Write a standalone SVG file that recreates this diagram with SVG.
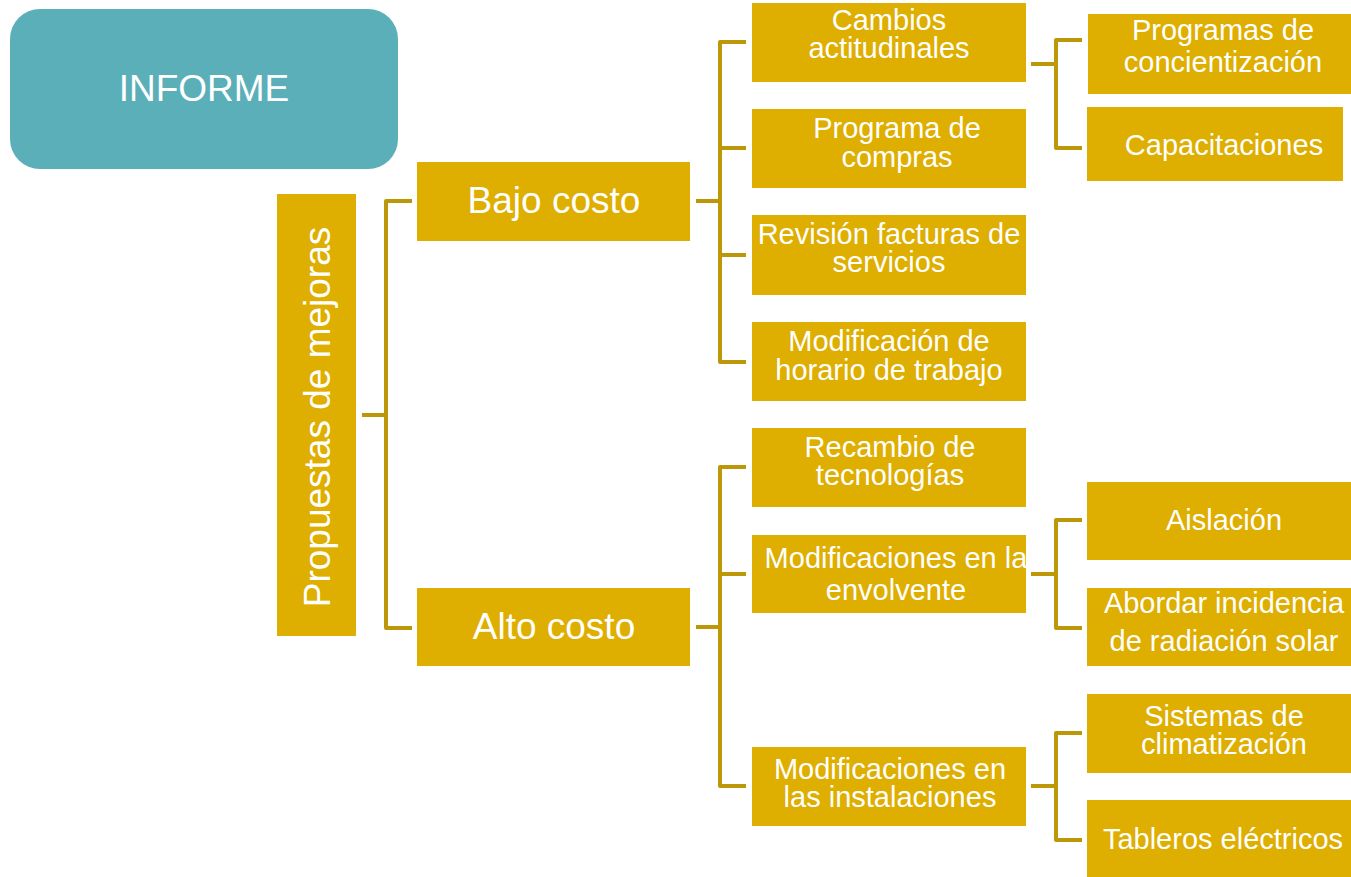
<svg xmlns="http://www.w3.org/2000/svg" width="1351" height="877" viewBox="0 0 1351 877">
<style>
.box{fill:#DEAE00;}
.t{font-family:"Liberation Sans",Arial,sans-serif;fill:#FFFFFF;text-anchor:middle;}
.s{font-size:29px;}
.b{font-size:37px;}
.c{fill:none;stroke:#BC9808;stroke-width:4;stroke-linejoin:round;}
</style>
<rect width="1351" height="877" fill="#FFFFFF"/>
<g id="connectors">
<path class="c" d="M362 415H386M412 201H386V628H412"/>
<path class="c" d="M696 201H720M746 42H720V362H746M720 148H746M720 255H746"/>
<path class="c" d="M696 627H720M746 467H720V786H746M720 574H746"/>
<path class="c" d="M1031 64H1056M1082 40H1056V148H1082"/>
<path class="c" d="M1031 574H1056M1082 520H1056V628H1082"/>
<path class="c" d="M1031 786H1056M1082 733H1056V840H1082"/>
</g>
<g id="informe">
<rect x="10" y="9" width="388" height="160" rx="30" fill="#5AAFB8"/>
<text class="t b" x="204" y="101">INFORME</text>
</g>
<g id="propuestas">
<rect class="box" x="277" y="194" width="79" height="442"/>
<text class="t b" transform="translate(330 417) rotate(-90)">Propuestas de mejoras</text>
</g>
<g id="bajo">
<rect class="box" x="417" y="162" width="273" height="79"/>
<text class="t b" x="554" y="213">Bajo costo</text>
</g>
<g id="alto">
<rect class="box" x="417" y="588" width="273" height="78"/>
<text class="t b" x="554" y="639">Alto costo</text>
</g>
<g id="cambios">
<rect class="box" x="752" y="3" width="274" height="79"/>
<text class="t s" x="889" y="30">Cambios</text>
<text class="t s" x="889" y="58">actitudinales</text>
</g>
<g id="compras">
<rect class="box" x="752" y="109" width="274" height="79"/>
<text class="t s" x="897" y="138">Programa de</text>
<text class="t s" x="897" y="167">compras</text>
</g>
<g id="revision">
<rect class="box" x="752" y="215" width="274" height="80"/>
<text class="t s" x="889" y="244">Revisión facturas de</text>
<text class="t s" x="889" y="272">servicios</text>
</g>
<g id="horario">
<rect class="box" x="752" y="322" width="274" height="79"/>
<text class="t s" x="889" y="351">Modificación de</text>
<text class="t s" x="889" y="380">horario de trabajo</text>
</g>
<g id="recambio">
<rect class="box" x="752" y="428" width="274" height="79"/>
<text class="t s" x="890" y="457">Recambio de</text>
<text class="t s" x="890" y="485">tecnologías</text>
</g>
<g id="envolvente">
<rect class="box" x="752" y="535" width="274" height="78"/>
<text class="t s" x="896" y="568">Modificaciones en la</text>
<text class="t s" x="896" y="600">envolvente</text>
</g>
<g id="instalaciones">
<rect class="box" x="752" y="747" width="274" height="79"/>
<text class="t s" x="890" y="779">Modificaciones en</text>
<text class="t s" x="890" y="807">las instalaciones</text>
</g>
<g id="concientizacion">
<rect class="box" x="1088" y="14" width="263" height="80"/>
<text class="t s" x="1223" y="40">Programas de</text>
<text class="t s" x="1223" y="72">concientización</text>
</g>
<g id="capacitaciones">
<rect class="box" x="1087" y="107" width="256" height="74"/>
<text class="t s" x="1224" y="155">Capacitaciones</text>
</g>
<g id="aislacion">
<rect class="box" x="1087" y="482" width="264" height="78"/>
<text class="t s" x="1224" y="530">Aislación</text>
</g>
<g id="radiacion">
<rect class="box" x="1087" y="588" width="264" height="78"/>
<text class="t s" x="1224" y="613">Abordar incidencia</text>
<text class="t s" x="1224" y="651">de radiación solar</text>
</g>
<g id="climatizacion">
<rect class="box" x="1087" y="694" width="264" height="79"/>
<text class="t s" x="1224" y="726">Sistemas de</text>
<text class="t s" x="1224" y="754">climatización</text>
</g>
<g id="tableros">
<rect class="box" x="1087" y="800" width="264" height="77"/>
<text class="t s" x="1223" y="849">Tableros eléctricos</text>
</g>
</svg>
